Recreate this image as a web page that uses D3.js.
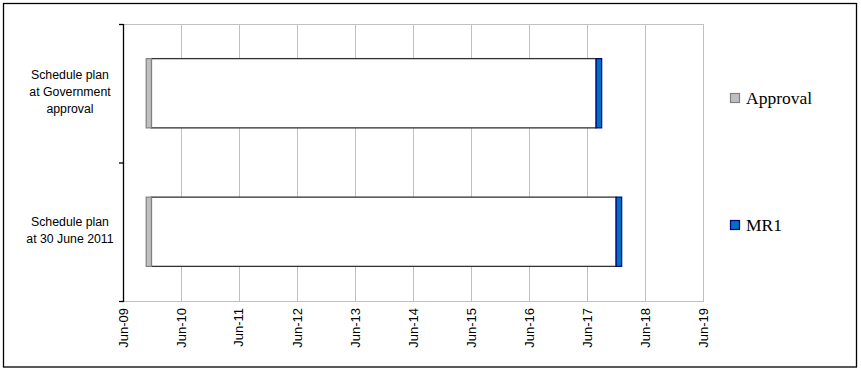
<!DOCTYPE html>
<html>
  <head>
    <meta charset="utf-8">
    <script src="https://d3js.org/d3.v7.min.js"></script>
    <style>
      body { margin: 0; background: #fff; }
      svg { display: block; }
    </style>
  </head>
<body>
  <script type="text/javascript">

  // Data

  var categories = ["Schedule plan at Government approval", "Schedule plan at 30 June 2011"];
  var categoryLines = [["Schedule plan", "at Government", "approval"],
                       ["Schedule plan", "at 30 June 2011"]];
  var approvalStart = ["2009-10-25", "2009-10-25"];
  var approvalEnd   = ["2009-11-27", "2009-11-27"];
  var mr1Start      = ["2017-07-28", "2017-12-01"];
  var mr1End        = ["2017-09-01", "2018-01-05"];
  var tickDates     = ["2009-06-01", "2010-06-01", "2011-06-01", "2012-06-01", "2013-06-01", "2014-06-01",
                       "2015-06-01", "2016-06-01", "2017-06-01", "2018-06-01", "2019-06-01"];
  var seriesNames   = ["Approval", "MR1"];

  var parse = d3.timeParse("%Y-%m-%d");
  var fmt = d3.timeFormat("%b-%y");

  var rows = categories.map(function(c, i) {
    return {
      cat: c,
      lines: categoryLines[i],
      a0: parse(approvalStart[i]), a1: parse(approvalEnd[i]),
      m0: parse(mr1Start[i]), m1: parse(mr1End[i])
    };
  });
  var ticks = tickDates.map(parse);

  var width = 861, height = 370;
  var plotLeft = 123, plotRight = 703, plotTop = 24, plotBottom = 301;

  var svg = d3.select("body").append("svg")
      .attr("width", width)
      .attr("height", height);

  // outer frame
  svg.append("rect")
      .attr("x", 3.5).attr("y", 3.5)
      .attr("width", 853).attr("height", 363.5)
      .attr("fill", "none")
      .attr("stroke", "#000")
      .attr("stroke-width", 1.3);

  var x = d3.scaleTime()
      .domain([ticks[0], ticks[ticks.length - 1]])
      .range([plotLeft, plotRight]);

  var y = d3.scaleBand()
      .domain(categories)
      .range([plotTop, plotBottom])
      .paddingInner(0.5)
      .paddingOuter(0.25);

  // gridlines
  svg.append("g").selectAll("line")
      .data(ticks)
      .enter().append("line")
      .attr("x1", function(d){ return Math.round(x(d)) + 0.5; })
      .attr("x2", function(d){ return Math.round(x(d)) + 0.5; })
      .attr("y1", plotTop).attr("y2", plotBottom)
      .attr("stroke", "#c0c0c0")
      .attr("stroke-width", 1);

  svg.append("line")
      .attr("x1", plotLeft).attr("x2", plotRight + 1)
      .attr("y1", plotTop + 0.5).attr("y2", plotTop + 0.5)
      .attr("stroke", "#c0c0c0");

  svg.append("line")
      .attr("x1", plotLeft).attr("x2", plotRight + 1)
      .attr("y1", plotBottom + 0.5).attr("y2", plotBottom + 0.5)
      .attr("stroke", "#c0c0c0");

  // x tick labels (rotated)
  svg.append("g").selectAll("text")
      .data(ticks)
      .enter().append("text")
      .attr("transform", function(d){ return "translate(" + x(d) + "," + 308 + ") rotate(-90)"; })
      .attr("dy", "0.35em")
      .attr("text-anchor", "end")
      .attr("font-family", "Liberation Sans, Arial, sans-serif")
      .attr("font-size", 13)
      .attr("fill", "#000")
      .text(function(d){ return fmt(d); });

  // left axis
  svg.append("line")
      .attr("x1", plotLeft + 0.5).attr("x2", plotLeft + 0.5)
      .attr("y1", plotTop).attr("y2", plotBottom + 1)
      .attr("stroke", "#000")
      .attr("stroke-width", 1.3);

  var bounds = [plotTop, plotTop + y.step(), plotBottom];
  svg.append("g").selectAll("line")
      .data(bounds)
      .enter().append("line")
      .attr("x1", plotLeft - 4).attr("x2", plotLeft + 0.5)
      .attr("y1", function(d){ return d + 0.5; })
      .attr("y2", function(d){ return d + 0.5; })
      .attr("stroke", "#000")
      .attr("stroke-width", 1.3);

  // y category labels
  var labels = svg.append("g").selectAll("text")
      .data(rows)
      .enter().append("text")
      .attr("text-anchor", "middle")
      .attr("font-family", "Liberation Sans, Arial, sans-serif")
      .attr("font-size", 12.3)
      .attr("fill", "#000");

  labels.each(function(d) {
    var cy = y(d.cat) + y.bandwidth() / 2;
    var n = d.lines.length;
    d3.select(this).selectAll("tspan")
      .data(d.lines)
      .enter().append("tspan")
      .attr("x", 70)
      .attr("y", function(l, i){ return cy + (i - (n - 1) / 2) * 16.8 + 3; })
      .text(function(l){ return l; });
  });

  // bars: white span between approval and MR1
  var bars = svg.append("g");

  bars.selectAll(".span")
      .data(rows)
      .enter().append("rect")
      .attr("class", "span")
      .attr("x", function(d){ return x(d.a1); })
      .attr("width", function(d){ return x(d.m0) - x(d.a1); })
      .attr("y", function(d){ return y(d.cat); })
      .attr("height", y.bandwidth())
      .attr("fill", "#fff")
      .attr("stroke", "#333")
      .attr("stroke-width", 1.3);

  bars.selectAll(".approval")
      .data(rows)
      .enter().append("rect")
      .attr("class", "approval")
      .attr("x", function(d){ return x(d.a0); })
      .attr("width", function(d){ return x(d.a1) - x(d.a0); })
      .attr("y", function(d){ return y(d.cat); })
      .attr("height", y.bandwidth())
      .attr("fill", "#c0c0c0")
      .attr("stroke", "#808080")
      .attr("stroke-width", 1.2);

  bars.selectAll(".mr1")
      .data(rows)
      .enter().append("rect")
      .attr("class", "mr1")
      .attr("x", function(d){ return x(d.m0); })
      .attr("width", function(d){ return x(d.m1) - x(d.m0); })
      .attr("y", function(d){ return y(d.cat); })
      .attr("height", y.bandwidth())
      .attr("fill", "#0070c0")
      .attr("stroke", "#000080")
      .attr("stroke-width", 1.2);

  // legend
  var legendFill = ["#c0c0c0", "#0070c0"];
  var legendStroke = ["#808080", "#000080"];
  var legendY = [93.5, 220.5];

  var lg = svg.append("g").selectAll("g")
      .data(seriesNames)
      .enter().append("g")
      .attr("transform", function(d, i){ return "translate(730.5," + legendY[i] + ")"; });

  lg.append("rect")
      .attr("width", 9).attr("height", 9)
      .attr("fill", function(d, i){ return legendFill[i]; })
      .attr("stroke", function(d, i){ return legendStroke[i]; })
      .attr("stroke-width", 1.2);

  lg.append("text")
      .attr("x", 15.5)
      .attr("y", 10.5)
      .attr("font-family", "Liberation Serif, Times New Roman, serif")
      .attr("font-size", 17.5)
      .attr("fill", "#000")
      .text(function(d){ return d; });

  </script>
</body>
</html>
